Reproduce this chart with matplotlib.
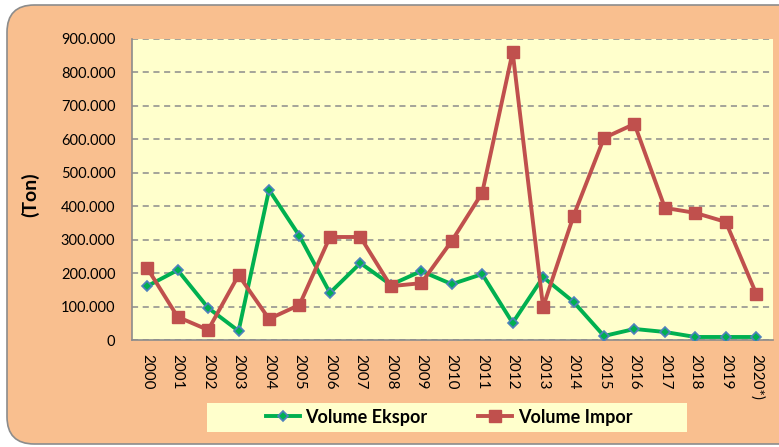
import matplotlib.pyplot as plt
from matplotlib.patches import FancyBboxPatch, Rectangle
from matplotlib.ticker import FuncFormatter

years = ['2000', '2001', '2002', '2003', '2004', '2005', '2006', '2007', '2008', '2009',
         '2010', '2011', '2012', '2013', '2014', '2015', '2016', '2017', '2018', '2019', '2020*)']
ekspor = [161000, 209000, 96000, 27000, 449000, 311000, 141000, 230000, 165000, 206000,
          167000, 197000, 51000, 188000, 114000, 12000, 33000, 24000, 9000, 9000, 9000]
impor = [215000, 69000, 30000, 194000, 63000, 105000, 308000, 308000, 161000, 170000,
         296000, 440000, 861000, 99000, 371000, 604000, 646000, 395000, 380000, 353000, 138000]

plt.rcParams['font.family'] = ['Lato', 'DejaVu Sans']

W, H = 779, 447
fig = plt.figure(figsize=(W / 100, H / 100), dpi=100)
fig.patch.set_facecolor('white')

# orange rounded background box
bg = FancyBboxPatch((7 / W, 1 - 444 / H), 800 / W, 439 / H,
                    boxstyle='round,pad=0,rounding_size=0.035',
                    transform=fig.transFigure, facecolor='#F9BF8F',
                    edgecolor='#8C8C8C', linewidth=1.2, zorder=0,
                    mutation_aspect=W / H)
fig.patches.append(bg)

# legend background
fig.patches.append(Rectangle((207 / W, 1 - 432 / H), 480 / W, 29 / H,
                             transform=fig.transFigure, facecolor='#FFFFCC',
                             edgecolor='none', zorder=0.5))

ax = fig.add_axes([132 / W, 1 - 340 / H, (773 - 132) / W, (340 - 39) / H])
ax.set_zorder(2)
ax.set_facecolor('#FFFFCC')

x = list(range(len(years)))
l1, = ax.plot(x, ekspor, color='#00B050', linewidth=2.8, marker='D', markersize=5,
              markerfacecolor='#00B050', markeredgecolor='#4F81BD', markeredgewidth=1.2,
              zorder=3)
l2, = ax.plot(x, impor, color='#C0504D', linewidth=2.8, marker='s', markersize=8.5,
              markerfacecolor='#C0504D', markeredgecolor='#C0504D', zorder=4)

ax.set_xlim(-0.5, 20.55)
ax.set_ylim(0, 900000)
ax.set_yticks(range(0, 900001, 100000))
ax.yaxis.set_major_formatter(FuncFormatter(
    lambda v, p: '0' if v == 0 else f'{int(v):,}'.replace(',', '.')))
ax.set_xticks(x)
ax.set_xticklabels(years, rotation=270, fontsize=11)
ax.tick_params(axis='y', labelsize=10.5, length=0, pad=12)
ax.tick_params(axis='x', length=0, pad=10)
ax.grid(axis='y', linestyle=(0, (4, 3)), color='#8C8C8C', linewidth=1.1)
ax.set_axisbelow(True)
for s in ['top', 'right']:
    ax.spines[s].set_visible(False)
for s in ['left', 'bottom']:
    ax.spines[s].set_color('#8C8C8C')
    ax.spines[s].set_linewidth(1.2)

fig.text(30 / W, 1 - 195 / H, '(Ton)', rotation=90, fontsize=14, fontweight='bold',
         ha='center', va='center', zorder=3)

leg = fig.legend([l1, l2], ['Volume Ekspor', 'Volume Impor'], loc='center',
                 bbox_to_anchor=(449 / W, 1 - 417 / H), ncol=2, frameon=False,
                 handlelength=1.9, columnspacing=2.8, handletextpad=0.3,
                 prop={'weight': 'bold', 'size': 13})
leg.set_zorder(3)

fig.savefig('out.png', dpi=100)
